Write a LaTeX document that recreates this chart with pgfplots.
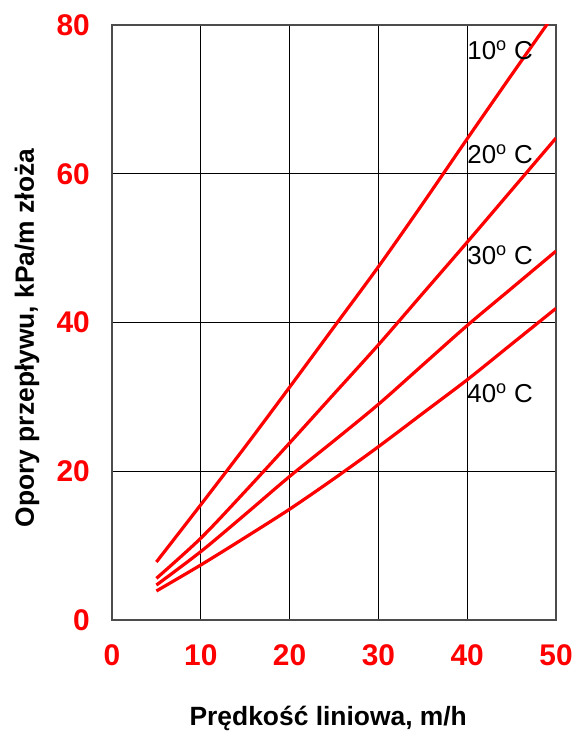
\documentclass[border=0pt]{standalone}
\usepackage{pgfplots}
\pgfplotsset{compat=1.18}
\usepackage{fontspec}
\setmainfont{Liberation Sans}
\begin{document}
\begin{tikzpicture}[x=1bp,y=1bp]
\path[use as bounding box] (0,0) rectangle (576,735);
\begin{axis}[
  at={(112bp,115bp)}, anchor=south west,
  scale only axis, width=444bp, height=595bp,
  xmin=0, xmax=50, ymin=0, ymax=80,
  xtick={0,10,...,50}, ytick={0,20,...,80},
  major tick length=0pt,
  grid=major,
  grid style={black, line width=0.8bp},
  axis line style={draw=black!70, line width=1.3bp},
  /pgf/number format/assume math mode=true,
  xticklabel style={font=\bfseries\fontsize{30}{30}\selectfont, text=red, inner sep=0pt, anchor=north, yshift=-24bp},
  yticklabel style={font=\bfseries\fontsize{30}{30}\selectfont, text=red, inner sep=0pt, anchor=east, xshift=-22bp},
  xlabel={Prędkość liniowa, m/h},
  ylabel={Opory przepływu, kPa/m złoża},
  label style={font=\bfseries\fontsize{26.5}{26.5}\selectfont},
  xlabel style={at={(axis description cs:0.487,-0.1647)}, anchor=center},
  ylabel style={at={(axis description cs:-0.1914,0.474)}, anchor=center},
  clip=true,
]
\addplot[red, line width=3.2bp, smooth] coordinates {(5,7.8) (10,15.5) (15,23.3) (20,31.3) (25,39.4) (30,47.5) (35,56.0) (40,64.7) (45,73.3) (50,81.8)};
\addplot[red, line width=3.2bp, smooth] coordinates {(5,5.6) (10,11.0) (15,17.3) (20,23.8) (25,30.4) (30,37.0) (35,43.9) (40,50.8) (45,57.8) (50,64.8)};
\addplot[red, line width=3.2bp, smooth] coordinates {(5,4.7) (10,9.2) (15,14.2) (20,19.3) (25,24.1) (30,29.0) (35,34.3) (40,39.6) (45,44.6) (50,49.6)};
\addplot[red, line width=3.2bp, smooth] coordinates {(5,3.9) (10,7.4) (15,11.1) (20,14.9) (25,19.0) (30,23.3) (35,27.8) (40,32.3) (45,37.1) (50,41.9)};
\node[anchor=base west, inner sep=0pt, font=\fontsize{26}{26}\selectfont] at (axis cs:40.0,75.3) {10\textsuperscript{o} C};
\node[anchor=base west, inner sep=0pt, font=\fontsize{26}{26}\selectfont] at (axis cs:40.0,61.4) {20\textsuperscript{o} C};
\node[anchor=base west, inner sep=0pt, font=\fontsize{26}{26}\selectfont] at (axis cs:40.0,47.8) {30\textsuperscript{o} C};
\node[anchor=base west, inner sep=0pt, font=\fontsize{26}{26}\selectfont] at (axis cs:40.0,29.3) {40\textsuperscript{o} C};
\end{axis}
\end{tikzpicture}
\end{document}
